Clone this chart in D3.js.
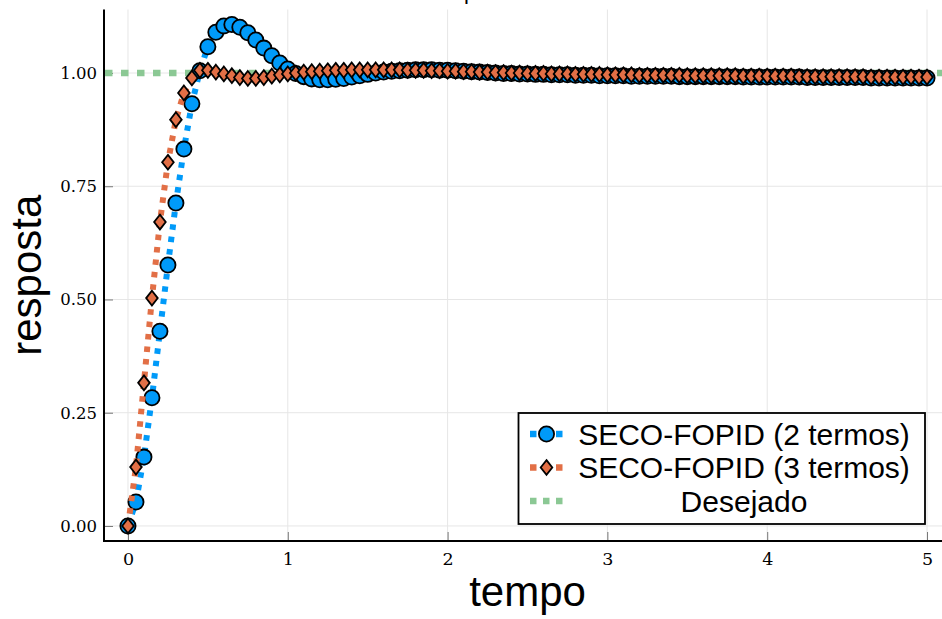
<!DOCTYPE html>
<html>
<head>
<meta charset="utf-8">
<script src="https://cdn.jsdelivr.net/npm/d3@7"></script>
<style>
  body { margin: 0; background: #fff; }
  svg { display: block; }
</style>
</head>
<body>
<svg id="chart" width="942" height="619"></svg>
<script>
// Step response of the two SECO-FOPID controllers, sampled every 0.05 s from 0 to 5 s
const passo = 0.05;
const resposta2 = [
  0.000, 0.053, 0.152, 0.283, 0.430, 0.576, 0.713, 0.832, 0.932, 1.005,
  1.058, 1.090, 1.104, 1.107, 1.101, 1.089, 1.073, 1.055, 1.038, 1.022,
  1.009, 0.999, 0.992, 0.987, 0.985, 0.985, 0.986, 0.988, 0.991, 0.994,
  0.997, 1.000, 1.002, 1.004, 1.005, 1.006, 1.007, 1.007, 1.007, 1.006,
  1.006, 1.005, 1.004, 1.003, 1.002, 1.001, 1.000, 0.999, 0.999, 0.998,
  0.998, 0.997, 0.997, 0.996, 0.996, 0.996, 0.995, 0.995, 0.995, 0.994,
  0.994, 0.994, 0.994, 0.993, 0.993, 0.993, 0.993, 0.993, 0.993, 0.992,
  0.992, 0.992, 0.992, 0.992, 0.992, 0.992, 0.992, 0.991, 0.991, 0.991,
  0.991, 0.991, 0.991, 0.991, 0.991, 0.990, 0.990, 0.990, 0.990, 0.990,
  0.990, 0.990, 0.990, 0.989, 0.989, 0.989, 0.989, 0.989, 0.989, 0.989,
  0.989
];
const resposta3 = [
  0.000, 0.130, 0.316, 0.503, 0.671, 0.803, 0.897, 0.956, 0.989, 1.006,
  1.006, 1.002, 0.998, 0.994, 0.990, 0.988, 0.988, 0.990, 0.993, 0.996,
  0.998, 1.000, 1.002, 1.003, 1.004, 1.005, 1.006, 1.006, 1.007, 1.007,
  1.007, 1.007, 1.007, 1.007, 1.007, 1.006, 1.006, 1.006, 1.005, 1.005,
  1.004, 1.004, 1.003, 1.003, 1.002, 1.002, 1.001, 1.001, 1.000, 1.000,
  0.999, 0.999, 0.999, 0.998, 0.998, 0.998, 0.997, 0.997, 0.997, 0.997,
  0.996, 0.996, 0.996, 0.996, 0.995, 0.995, 0.995, 0.995, 0.995, 0.995,
  0.994, 0.994, 0.994, 0.994, 0.994, 0.994, 0.994, 0.993, 0.993, 0.993,
  0.993, 0.993, 0.993, 0.993, 0.992, 0.992, 0.992, 0.992, 0.992, 0.992,
  0.992, 0.992, 0.992, 0.991, 0.991, 0.991, 0.991, 0.991, 0.991, 0.991,
  0.991
];
const desejado = 1.0;
const tempo = resposta2.map((_, i) => +(i * passo).toFixed(2));

const xTicks = [0, 1, 2, 3, 4, 5];
const yTicks = [0, 0.25, 0.5, 0.75, 1.0];
const nomes = ["SECO-FOPID (2 termos)", "SECO-FOPID (3 termos)", "Desejado"];
const titulo = "Resposta do sistema";

const cores = { s2: "#009AF9", s3: "#E26F46", ref: "#8BC894" };

const svg = d3.select("#chart");
const area = { left: 104, right: 951, top: 9.5, bottom: 541 };

// axis limits padded by 3% of the data span on each side
const xExt = d3.extent(tempo);
const xPad = 0.03 * (xExt[1] - xExt[0]);
const yMin = d3.min([...resposta2, ...resposta3]);
const yMax = d3.max([...resposta2, ...resposta3]);
const yPad = 0.03 * (yMax - yMin);

const x = d3.scaleLinear().domain([xExt[0] - xPad, xExt[1] + xPad]).range([area.left, area.right]);
const y = d3.scaleLinear().domain([yMin - yPad, yMax + yPad]).range([area.bottom, area.top]);

// grid
const grade = svg.append("g").attr("stroke", "#e6e6e6").attr("stroke-width", 1);
grade.selectAll("line.gx").data(xTicks).join("line")
  .attr("x1", d => x(d)).attr("x2", d => x(d))
  .attr("y1", area.top).attr("y2", area.bottom);
grade.selectAll("line.gy").data(yTicks).join("line")
  .attr("x1", area.left).attr("x2", area.right)
  .attr("y1", d => y(d)).attr("y2", d => y(d));

// axes with inward ticks
const eixoX = svg.append("g").attr("transform", `translate(0,${area.bottom})`)
  .call(d3.axisBottom(x).tickValues(xTicks).tickFormat(d3.format("d")).tickSize(-9).tickPadding(8));
const eixoY = svg.append("g").attr("transform", `translate(${area.left},0)`)
  .call(d3.axisLeft(y).tickValues(yTicks).tickFormat(d3.format(".2f")).tickSize(-9).tickPadding(7));
[eixoX, eixoY].forEach(g => {
  g.select(".domain").remove();
  g.selectAll(".tick line").attr("stroke", "#777").attr("stroke-width", 1);
  g.selectAll(".tick text").attr("fill", "#000")
    .style("font-family", "'DejaVu Serif', serif").style("font-size", "16.5px");
});
eixoX.selectAll(".tick text").attr("dy", "0.9em").style("font-size", "17.5px");

svg.append("line").attr("x1", area.left).attr("x2", area.left)
  .attr("y1", area.top).attr("y2", area.bottom + 1)
  .attr("stroke", "#000").attr("stroke-width", 2);
svg.append("line").attr("x1", area.left - 1).attr("x2", area.right)
  .attr("y1", area.bottom).attr("y2", area.bottom)
  .attr("stroke", "#000").attr("stroke-width", 2);

// reference level
svg.append("line")
  .attr("x1", area.left + 1).attr("x2", area.right)
  .attr("y1", y(desejado)).attr("y2", y(desejado))
  .attr("stroke", cores.ref).attr("stroke-width", 6.5).attr("stroke-dasharray", "7.5,8.5");

const linha = d3.line().x((d, i) => x(tempo[i])).y(d => y(d));

function losango(g, cx, cy) {
  const hw = 5.8, hh = 7.4;
  g.append("path")
    .attr("d", `M${cx},${cy - hh}L${cx + hw},${cy}L${cx},${cy + hh}L${cx - hw},${cy}Z`)
    .attr("fill", cores.s3).attr("stroke", "#000").attr("stroke-width", 1.8);
}

// series 1: circles
svg.append("path").datum(resposta2).attr("d", linha)
  .attr("fill", "none").attr("stroke", cores.s2).attr("stroke-width", 6)
  .attr("stroke-dasharray", "5.5,7");
svg.append("g").selectAll("circle").data(resposta2).join("circle")
  .attr("cx", (d, i) => x(tempo[i])).attr("cy", d => y(d)).attr("r", 7.6)
  .attr("fill", cores.s2).attr("stroke", "#000").attr("stroke-width", 1.8);

// series 2: diamonds
svg.append("path").datum(resposta3).attr("d", linha)
  .attr("fill", "none").attr("stroke", cores.s3).attr("stroke-width", 6)
  .attr("stroke-dasharray", "5.5,7");
const gLos = svg.append("g");
resposta3.forEach((d, i) => losango(gLos, x(tempo[i]), y(d)));

// title (sits above the frame)
svg.append("text").attr("x", (area.left + area.right) / 2).attr("y", -1)
  .attr("text-anchor", "middle").style("font-family", "'Liberation Sans', Arial, sans-serif")
  .style("font-size", "22px").text(titulo);

// axis labels
svg.append("text").attr("x", (area.left + area.right) / 2).attr("y", 606)
  .attr("text-anchor", "middle").style("font-family", "'Liberation Sans', Arial, sans-serif")
  .style("font-size", "42px").text("tempo");
svg.append("text").attr("transform", `translate(41,${(area.top + area.bottom) / 2}) rotate(-90)`)
  .attr("text-anchor", "middle").style("font-family", "'Liberation Sans', Arial, sans-serif")
  .style("font-size", "42px").text("resposta");

// legend
const leg = { x0: 518.5, y0: 413, x1: 925, y1: 524 };
const gl = svg.append("g");
gl.append("rect").attr("x", leg.x0).attr("y", leg.y0)
  .attr("width", leg.x1 - leg.x0).attr("height", leg.y1 - leg.y0)
  .attr("fill", "#fff").attr("stroke", "#000").attr("stroke-width", 1.8);
const linhas = [434, 467.5, 501];
const amostra = { a: 530, b: 563 };
const cx = (amostra.a + amostra.b) / 2;
const textoC = 744;
[cores.s2, cores.s3, cores.ref].forEach((c, k) => {
  gl.append("line").attr("x1", amostra.a).attr("x2", amostra.b)
    .attr("y1", linhas[k]).attr("y2", linhas[k])
    .attr("stroke", c).attr("stroke-width", 6.5).attr("stroke-dasharray", "6.5,6.5");
  gl.append("text").attr("x", textoC).attr("y", linhas[k] + 10.5)
    .attr("text-anchor", "middle").style("font-family", "'Liberation Sans', Arial, sans-serif")
    .style("font-size", "30px").text(nomes[k]);
});
gl.append("circle").attr("cx", cx).attr("cy", linhas[0]).attr("r", 7.6)
  .attr("fill", cores.s2).attr("stroke", "#000").attr("stroke-width", 1.8);
losango(gl, cx, linhas[1]);
</script>
</body>
</html>
